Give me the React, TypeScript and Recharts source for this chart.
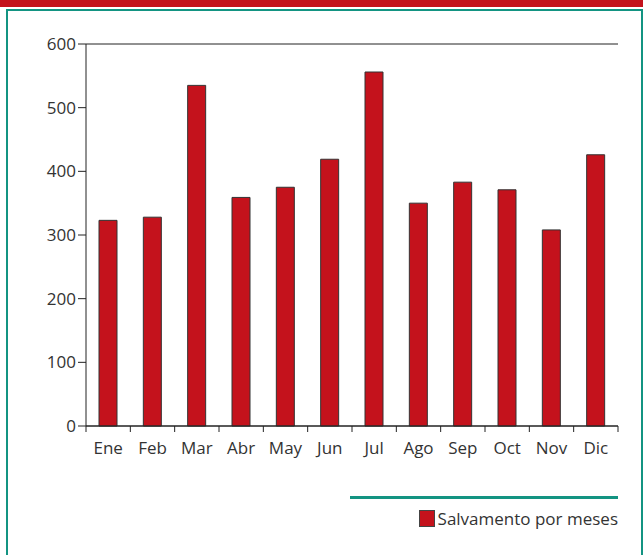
import React from 'react'
import { BarChart, Bar, XAxis, YAxis, CartesianGrid, Legend } from 'recharts'

const months = ['Ene', 'Feb', 'Mar', 'Abr', 'May', 'Jun', 'Jul', 'Ago', 'Sep', 'Oct', 'Nov', 'Dic']
const salvamento = [323, 328, 535, 359, 375, 419, 556, 350, 383, 371, 308, 426]
const yTicks = [0, 100, 200, 300, 400, 500, 600]

const data = months.map((m, i) => ({ mes: m, valor: salvamento[i] }))

const W = 643
const H = 555
// bottom margin leaves room for the legend box, which recharts adds on top of it
const margin = { top: 44, right: 25, bottom: 65, left: 26 }
const yAxisW = 60
const halfBand = (W - margin.left - yAxisW - margin.right) / months.length / 2

const FONT = '"Open Sans", sans-serif'
const RED = '#c4121c'
const TEAL = '#139482'
const INK = '#222'

const MonthTick = (props: any) => {
  const { x, y, payload, index } = props
  const axisY = y - 8
  return (
    <g>
      <line x1={x - halfBand} x2={x - halfBand} y1={axisY} y2={axisY + 6} stroke={INK} />
      {index === months.length - 1 && (
        <line x1={x + halfBand} x2={x + halfBand} y1={axisY} y2={axisY + 6} stroke={INK} />
      )}
      <text x={x} y={y + 20} textAnchor="middle" fill="#333" fontSize={17} fontFamily={FONT}>
        {payload.value}
      </text>
    </g>
  )
}

const LegendBox = () => (
  <div style={{ width: 268, fontFamily: FONT }}>
    <div style={{ height: 3, background: TEAL }} />
    <div style={{ display: 'flex', justifyContent: 'flex-end', alignItems: 'center', marginTop: 8 }}>
      <span style={{ width: 14, height: 15, background: RED, border: '1px solid #444', marginRight: 3 }} />
      <span style={{ fontSize: 17, color: '#333' }}>Salvamento por meses</span>
    </div>
  </div>
)

export default function App() {
  return (
    <div style={{ position: 'absolute', left: 0, top: 0, width: W, height: H, background: '#fff' }}>
      <div style={{ position: 'absolute', left: 0, top: 0, width: W, height: 7, background: RED }} />
      <div
        style={{
          position: 'absolute',
          left: 6,
          top: 9,
          width: W - 6,
          height: H - 9,
          borderTop: `2px solid ${TEAL}`,
          borderLeft: `2px solid ${TEAL}`,
          borderRight: `2px solid ${TEAL}`,
          boxSizing: 'border-box',
        }}
      />
      <div style={{ position: 'absolute', left: 0, top: 0 }}>
        <BarChart width={W} height={H} data={data} margin={margin} barCategoryGap="0%">
          <CartesianGrid vertical={false} stroke={INK} strokeOpacity={1} />
          <XAxis
            dataKey="mes"
            axisLine={{ stroke: INK }}
            tickLine={false}
            tick={<MonthTick />}
            interval={0}
            height={30}
          />
          <YAxis
            yAxisId="l"
            domain={[0, 600]}
            ticks={yTicks}
            width={yAxisW}
            tickSize={8}
            axisLine={{ stroke: INK }}
            tickLine={{ stroke: INK }}
            tick={{ fill: '#333', fontSize: 17, fontFamily: FONT }}
          />
          <YAxis
            yAxisId="r"
            orientation="right"
            domain={[0, 600]}
            width={0}
            tick={false}
            tickLine={false}
            axisLine={{ stroke: '#444', strokeWidth: 1.5 }}
          />
          <Legend
            content={<LegendBox />}
            wrapperStyle={{ position: 'absolute', left: 350, top: 496, width: 268, bottom: 'auto' }}
          />
          <Bar
            yAxisId="l"
            dataKey="valor"
            name="Salvamento por meses"
            fill={RED}
            stroke="#333"
            strokeWidth={1}
            barSize={18}
            isAnimationActive={false}
          />
        </BarChart>
      </div>
    </div>
  )
}
